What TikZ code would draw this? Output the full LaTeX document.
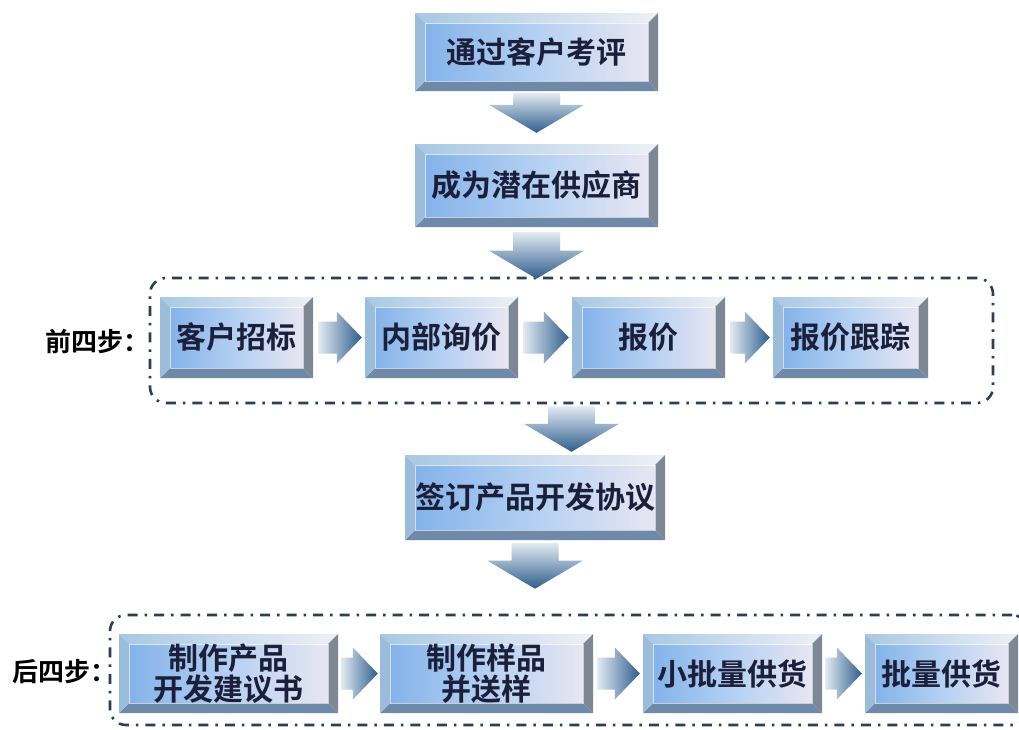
\documentclass[tikz,border=0pt]{standalone}
\usepackage{fontspec}
\newfontfamily\cjk{Noto Sans CJK SC}[BoldFont={Noto Sans CJK SC Bold}]
\usetikzlibrary{calc}
\definecolor{faceL}{HTML}{84B3EA}
\definecolor{faceM}{HTML}{B4D0F2}
\definecolor{faceR}{HTML}{E8E6F2}
\definecolor{topL}{HTML}{A8C8E4}
\definecolor{topR}{HTML}{EEF0F6}
\definecolor{leftc}{HTML}{9CBCDC}
\definecolor{rightc}{HTML}{7E8794}
\definecolor{botc}{HTML}{6F8AA8}
\definecolor{txt}{HTML}{1B1F3A}
\definecolor{frame}{HTML}{2D3E55}
\definecolor{arrL}{HTML}{E2EAF2}
\definecolor{arrD}{HTML}{2E5E8C}
\tikzset{
  bev/.style={rectangle, fill=white, inner sep=0pt, align=center, text=txt,
    font=\cjk\bfseries\fontsize{30}{31}\selectfont,
    path picture={
      \path (path picture bounding box.south west) coordinate (pSW)
            (path picture bounding box.north east) coordinate (pNE);
      \fill[left color=faceL, right color=faceR, middle color=faceM]
        ($(pSW)+(10pt,10pt)$) rectangle ($(pNE)+(-10pt,-10pt)$);
      \fill[left color=topL, right color=topR]
        (pSW |- pNE) -- (pNE) -- ($(pNE)+(-10pt,-10pt)$) -- ($(pSW |- pNE)+(10pt,-10pt)$) -- cycle;
      \fill[botc]
        (pSW) -- (pSW -| pNE) -- ($(pSW -| pNE)+(-10pt,10pt)$) -- ($(pSW)+(10pt,10pt)$) -- cycle;
      \fill[leftc]
        (pSW) -- ($(pSW)+(10pt,10pt)$) -- ($(pSW |- pNE)+(10pt,-10pt)$) -- (pSW |- pNE) -- cycle;
      \fill[rightc]
        (pSW -| pNE) -- (pNE) -- ($(pNE)+(-10pt,-10pt)$) -- ($(pSW -| pNE)+(-10pt,10pt)$) -- cycle;
      \draw[white, opacity=0.6, line width=1pt]
        ($(pSW)+(10pt,10pt)$) rectangle ($(pNE)+(-10pt,-10pt)$);
    }},
  dashframe/.style={rectangle, draw=frame, line width=2.6pt, rounded corners=16pt,
    dash pattern=on 10pt off 7pt on 2.5pt off 7pt, inner sep=0pt},
  steplabel/.style={anchor=west, inner sep=0pt, text=black,
    font=\cjk\bfseries\fontsize{26}{28}\selectfont}
}
% down block arrow: #1 start, #2 tip
\newcommand\darr[2]{%
  \shade[top color=arrL, bottom color=arrD]
    let \p1=(#1), \p2=(#2) in
    (\x1-23.5pt,\y1) -- (\x1+23.5pt,\y1) -- (\x1+23.5pt,\y2+28pt) -- (\x1+47.5pt,\y2+28pt)
    -- (\x1,\y2) -- (\x1-47.5pt,\y2+28pt) -- (\x1-23.5pt,\y2+28pt) -- cycle;}
% right block arrow: #1 start, #2 tip
\newcommand\rarr[2]{%
  \shade[left color=arrL, right color=arrD]
    let \p1=(#1), \p2=(#2) in
    (\x1,\y1+16pt) -- (\x2-25pt,\y1+16pt) -- (\x2-25pt,\y1+26pt) -- (\x2,\y1)
    -- (\x2-25pt,\y1-26pt) -- (\x2-25pt,\y1-16pt) -- (\x1,\y1-16pt) -- cycle;}
\begin{document}
\begin{tikzpicture}[x=1pt,y=-1pt]
\useasboundingbox (0,0) rectangle (1019,729);
\clip (0,0) rectangle (1019,729);
\fill[white] (0,0) rectangle (1019,729);

% frames
\node[dashframe, minimum width=843pt, minimum height=125pt] (g1) at (571.5,340.5) {};
\node[dashframe, minimum width=918pt, minimum height=110pt] (g2) at (569,670) {};

% main column
\node[bev, minimum width=243pt, minimum height=78pt] (b1) at (536.5,52) {通过客户考评};
\node[bev, minimum width=243pt, minimum height=83pt] (b2) at (536.5,185.5) {成为潜在供应商};
\node[bev, minimum width=260pt, minimum height=85pt] (b3) at (535,497.5) {签订产品开发协议};

% first row
\node[bev, minimum width=153pt, minimum height=81pt] (p1) at (236.5,337.5) {客户招标};
\node[bev, minimum width=153pt, minimum height=81pt] (p2) at (441.5,337.5) {内部询价};
\node[bev, minimum width=153pt, minimum height=81pt] (p3) at (648.5,337.5) {报价};
\node[bev, minimum width=155pt, minimum height=81pt] (p4) at (850.5,337.5) {报价跟踪};

% second row
\node[bev, minimum width=219pt, minimum height=79pt] (q1) at (228.5,673.5) {制作产品\\开发建议书};
\node[bev, minimum width=213pt, minimum height=79pt] (q2) at (486.5,673.5) {制作样品\\并送样};
\node[bev, minimum width=179pt, minimum height=79pt] (q3) at (732.5,673.5) {小批量供货};
\node[bev, minimum width=153pt, minimum height=79pt] (q4) at (941.5,673.5) {批量供货};

% labels
\node[steplabel] (l1) at (45,342) {前四步：};
\node[steplabel] (l2) at (12,672) {后四步：};

% down arrows
\darr{$(b1.south)+(0,-2pt)$}{$(b2.north)+(0,11pt)$}
\darr{$(b2.south)+(0,-5pt)$}{$(g1.north)+(0,-2pt)$}
\darr{$(g1.south)+(0,-2pt)$}{$(b3.north)+(0,3pt)$}
\darr{$(b3.south)+(0,-3pt)$}{$(g2.north)+(0,25pt)$}

% right arrows
\rarr{$(p1.east)+(5pt,0)$}{$(p2.west)+(-3pt,0)$}
\rarr{$(p2.east)+(5pt,0)$}{$(p3.west)+(-3pt,0)$}
\rarr{$(p3.east)+(5pt,0)$}{$(p4.west)+(-3pt,0)$}
\rarr{$(q1.east)+(3pt,0)$}{$(q2.west)+(-2pt,0)$}
\rarr{$(q2.east)+(4pt,0)$}{$(q3.west)+(-3pt,0)$}
\rarr{$(q3.east)+(3pt,0)$}{$(q4.west)+(-3pt,0)$}
\end{tikzpicture}
\end{document}
